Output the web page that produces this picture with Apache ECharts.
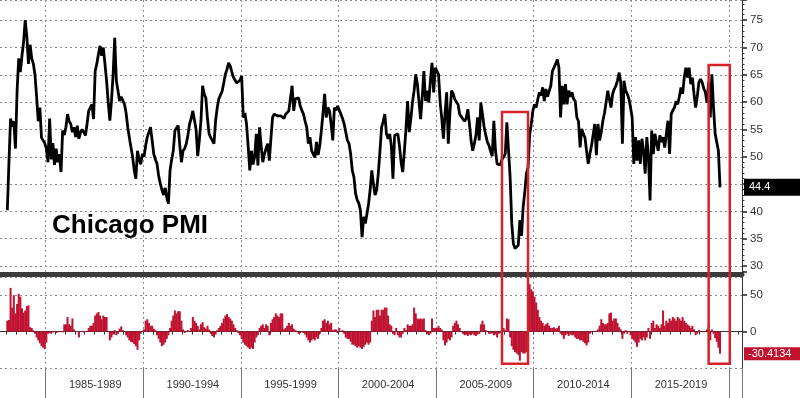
<!DOCTYPE html>
<html>
<head>
<meta charset="utf-8">
<title>Chicago PMI</title>
<script src="https://cdn.jsdelivr.net/npm/echarts@6/dist/echarts.min.js"></script>
<style>
  html, body { margin: 0; padding: 0; background: #fff; }
  #chart { width: 800px; height: 398px; }
</style>
</head>
<body>
<div id="chart"></div>
<script>
// month axis runs Sep 1982 .. Aug 2020, the series start in Jan 1983
const firstYear = 1982, firstMonth = 9, monthCount = 456;
const dataStart = '1983-01';

// Chicago PMI, monthly, one row per year
const pmiValues = [
  40.2, 49, 57, 55.5, 56.5, 51.5, 62, 68, 65.5, 68.5, 71, 75,
  72, 67, 70.5, 68, 67, 65, 61, 56.5, 59, 53.5, 53, 52.5,
  51.5, 49, 57, 49.5, 52.5, 48.5, 51.5, 49, 50.5, 47.2, 54.8, 54,
  55.4, 57.8, 56.5, 56, 54.5, 55.4, 53.6, 55.7, 53.3, 54.5, 55, 54.5,
  53.9, 56, 58.4, 59, 59.6, 56.9, 65.7, 67, 68.8, 70.3, 68.5, 70,
  67, 63.9, 60, 56.6, 60.2, 65, 71.8, 63.9, 62.1, 60.2, 61, 60.8,
  59.6, 58, 55.4, 53.5, 51.7, 50, 47.5, 46, 51.1, 49.5, 48.6, 50.5,
  50, 52, 53.6, 54.5, 55.4, 53, 50.5, 49.5, 48.7, 46.5, 45.1, 44,
  43, 44.3, 42.5, 41.4, 47.5, 49.5, 51.1, 54.8, 55, 55.7, 52, 49,
  51.1, 51.5, 52.4, 54, 56, 57, 58.4, 58.1, 55, 50.1, 53, 56.6,
  63, 61.5, 60.8, 57, 54.2, 53.5, 53, 52.4, 56.6, 59, 60.6, 60.6,
  62, 63.5, 65.1, 66, 67.2, 66.6, 65.5, 64.5, 64.2, 63.5, 63.3, 64,
  64.8, 57.2, 58, 56, 52, 47.5, 51.1, 48.6, 50, 54.2, 48.4, 55.4,
  52, 49, 50.5, 51.5, 52.4, 49.3, 53.3, 57.2, 57.8, 57.5, 57.5, 57.2,
  57.5, 57.2, 57, 57.8, 58, 58.4, 58.4, 63, 58.4, 60.6, 60.5, 60.8,
  59.3, 58.5, 57.8, 56.5, 55.4, 52.4, 53.6, 51.1, 50.5, 49.9, 52.7, 50.3,
  52, 54.8, 58, 61.5, 57.2, 59, 58.4, 56, 53, 59, 58.5, 59.3,
  59, 57.8, 57, 56, 54.5, 53, 52.4, 50.5, 47.5, 46.3, 43.3, 42.1,
  41.5, 40.2, 35.3, 39, 37.8, 39.5, 41.4, 44, 47.5, 45, 43, 43.9,
  47, 51, 55.4, 56.5, 57.8, 54.2, 53.3, 54.2, 52, 46, 53.9, 54,
  54.2, 52, 49, 47.2, 51, 55.1, 60.2, 54.5, 57, 60, 62.1, 65.1,
  63.3, 60, 56.9, 61, 65.7, 60.2, 62.1, 59.9, 64, 67.2, 61.8, 66.3,
  65.7, 65.1, 60, 57, 53.3, 58, 61.8, 52.4, 58, 62.1, 61.5, 60.5,
  60, 59.6, 57.8, 57.5, 56.9, 56.5, 57, 58.7, 56, 53, 51.1, 52.4,
  54, 57.2, 53, 59.9, 57.8, 55.5, 54, 52.7, 52.1, 51, 50.1, 56.6,
  51.1, 48.7, 49, 48.5, 49.5, 49.3, 50.5, 56.3, 56, 46.3, 37.8, 34.1,
  33.2, 33.5, 33.8, 38.4, 35.5, 40.8, 43.5, 46.9, 48, 54, 56, 58.5,
  59.6, 59, 60.5, 61.8, 61.2, 62.7, 60.2, 62.4, 61, 62, 63, 65.7,
  66, 67, 67.8, 66.3, 57.2, 63, 59.6, 63.3, 59.6, 62.1, 61, 61.8,
  60.6, 60.2, 57.2, 56.5, 51.7, 55.1, 54.2, 53.5, 51, 48.7, 50.5, 52,
  54, 56, 50.3, 56, 53, 54.5, 56.6, 58, 60, 62.1, 62.4, 59,
  61.5, 62.4, 63, 64, 65.4, 63.6, 52.4, 63.9, 62.1, 61.5, 60.6, 59,
  57.2, 48.7, 53.6, 49.3, 53, 48.7, 53.3, 51, 46.9, 53.6, 50, 42,
  54.8, 50.5, 54.2, 52.5, 51.1, 53.9, 52.7, 53.6, 51.7, 54.2, 56.6, 50.5,
  57.8, 58.5, 59, 60.2, 59.6, 61, 62.7, 61.5, 64.5, 66.3, 64.5, 66.3,
  63.3, 64.5, 61.5, 59, 61, 63.6, 64.2, 63.6, 62.5, 61.8, 59.9, 63.6,
  57.2, 65.1, 59, 54.2, 54.5, 51.1, 44.4
];

// year-over-year % change, monthly, one row per year
const yoyValues = [
  15, 16, 60, 33, 50, 25, 38, 52, 48, 32, 26, 29,
  35, 36, 6, 5, 2, -3, -8, -12, -16, -20, -22, -24,
  -15, -3, -2, -3, -1, 1, -2, -1, 0, 1, -1, 10,
  10, 20, 10, 8, 18, 3, 0, 1, -8, 0, 1, -1,
  1, 0, 5, 8, 8, 12, 22, 25, 27, 22, 17, 22,
  20, 20, 0, -12, -8, -4, 2, -5, -3, 4, 7, 2,
  0, -5, -8, -12, -14, -15, -17, -20, -25, -12, -3, 1,
  3, 15, 17, 12, 8, 8, 4, 2, -5, -10, -15, -20,
  -18, -15, -10, -5, 5, 15, 22, 29, 25, 28, 28, 15,
  3, -2, 1, 2, 1, 5, 20, 15, 12, 8, 3, 10,
  13, 6, 4, 8, 3, -3, -6, -8, -4, 2, 5, 8,
  12, 18, 22, 24, 20, 18, 15, 10, 5, 2, -2, -5,
  -10, -15, -18, -20, -22, -24, -22, -24, -15, -8, -5, 5,
  8, 10, 5, 10, 8, -5, 12, 17, 20, 25, 22, 20,
  25, 25, 3, 5, 8, 12, 8, 10, 4, 2, 1, -3,
  -2, 0, -2, -4, -8, -12, -15, -12, -10, -12, -8, -10,
  -3, 5, 15, 17, 12, 15, 10, 12, 2, 3, 3, -2,
  5, 0, 2, -3, -8, -10, -10, -14, -18, -18, -20, -22,
  -20, -22, -24, -21, -18, -15, -18, -15, 15, 29, 20, 30,
  30, 22, 30, 30, 33, 33, 22, 10, 8, -3, -5, 5,
  -5, -8, -8, -3, 5, 2, 10, 8, 8, 10, 33, 25,
  18, 17, 18, 17, 18, 2, -3, -5, -3, 18, 5, 5,
  5, 8, 5, 3, -12, -19, -15, -10, -12, -8, 8, 12,
  15, 10, 5, 0, -3, -5, -4, -6, -4, -5, -3, -5,
  -6, -4, -3, 10, 15, 10, 2, 0, -3, -3, -2, -5,
  -4, -8, -3, -2, 10, 5, 2, 18, 17, -8, -20, -25,
  -28, -30, -32, -40, -28, -30, -30, -28, 20, 65, 58, 55,
  48, 40, 30, 20, 15, 12, 8, 10, 12, 8, 5, 5,
  6, 4, 5, 8, -3, -5, -10, -5, -3, -6, -4, -5,
  -5, -8, -10, -10, -12, -12, -14, -16, -19, -15, -3, -1,
  0, 1, 0, 3, 8, 17, 12, 10, 10, 12, 25, 26,
  15, 18, 18, 12, 6, 3, -10, -3, 2, -3, 1, -5,
  -10, -12, -15, -21, -15, -10, -12, -8, -12, -8, 5, -10,
  12, 15, 5, 10, 8, 5, 10, 29, 8, 15, 12, 18,
  15, 20, 18, 15, 20, 18, 15, 20, 15, 12, 10, 8,
  5, 8, 3, -5, -3, 2, 1, 0, -1, 1, 3, 10,
  -12, 3, -3, -9, -14, -22, -30.4134
];

const periodStarts = [1985, 1990, 1995, 2000, 2005, 2010, 2015];
const periodLabels = ['1985-1989', '1990-1994', '1995-1999', '2000-2004', '2005-2009', '2010-2014', '2015-2019'];

// red highlight boxes (month range, top on PMI scale, bottom on % scale)
const boxFrom = ['2008-05', '2018-12'];
const boxTo = ['2009-09', '2020-01'];
const boxTop = [58.2, 66.8];
const boxBottom = [-44, -44];

const months = [];
for (let i = 0; i < monthCount; i++) {
    const t = firstMonth - 1 + i;
    const y = firstYear + Math.floor(t / 12), m = t % 12 + 1;
    months.push(y + '-' + (m < 10 ? '0' + m : m));
}
const offset = months.indexOf(dataStart);
const alignData = (arr) => months.map((_, i) => (i >= offset && i - offset < arr.length) ? arr[i - offset] : null);

const yearOf = (i) => +months[i].slice(0, 4);
const monthOf = (i) => months[i].slice(5);
const isPeriodStart = (i) => monthOf(i) === '01' && periodStarts.concat([2020]).indexOf(yearOf(i)) >= 0;
const isHalfYear = (i) => monthOf(i) === '01' || monthOf(i) === '07';
const isPeriodMiddle = (i) => monthOf(i) === '07' && periodStarts.indexOf(yearOf(i) - 2) >= 0;

const gridLine = { show: true, lineStyle: { color: '#8a8a8a', width: 1, type: [2, 3] } };
const axisText = { color: '#333', fontSize: 11.5 };

// value flag sitting on the right axis
function axisFlag(value, bg, pad) {
    return {
        silent: true, symbol: 'none',
        lineStyle: { color: 'rgba(0,0,0,0)', width: 0 },
        label: {
            show: true, position: 'end', distance: 2,
            backgroundColor: bg, color: '#fff', fontSize: 11,
            padding: pad,
            formatter: () => String(value)
        },
        data: [{ yAxis: value }]
    };
}

let chart = echarts.init(document.getElementById('chart'));

let option = {
    animation: false,
    textStyle: { fontFamily: 'Liberation Sans, Arial, sans-serif' },
    title: {
        text: 'Chicago PMI',
        left: 52,
        top: 213,
        padding: 0,
        textStyle: { fontSize: 26, fontWeight: 'bold', color: '#000' }
    },
    grid: [
        { left: 0, top: -1, width: 742, height: 273 },
        { left: 0, top: 277, width: 742, height: 91 }
    ],
    xAxis: [
        {
            gridIndex: 0, type: 'category', data: months, boundaryGap: true,
            offset: 2.5,
            axisLine: { show: true, lineStyle: { color: '#3a3a3a', width: 5 } },
            axisTick: { show: false },
            axisLabel: { show: false },
            splitLine: Object.assign({ interval: isPeriodStart }, gridLine)
        },
        {
            gridIndex: 1, type: 'category', data: months, boundaryGap: true,
            axisLine: { show: true, lineStyle: { color: '#333', width: 1 } },
            axisTick: { show: true, interval: isHalfYear, length: 3, lineStyle: { color: '#333' } },
            axisLabel: { show: false },
            splitLine: Object.assign({ interval: isPeriodStart }, gridLine)
        },
        {
            gridIndex: 1, type: 'category', data: months, boundaryGap: true, position: 'bottom',
            axisLine: { show: false },
            axisTick: { show: true, interval: isPeriodStart, length: 30, lineStyle: { color: '#777' } },
            axisLabel: {
                show: true, interval: isPeriodMiddle, margin: 11,
                color: '#333', fontSize: 11,
                formatter: (v) => periodLabels[periodStarts.indexOf(+v.slice(0, 4) - 2)]
            },
            splitLine: { show: false }
        }
    ],
    yAxis: [
        {
            gridIndex: 0, type: 'value', position: 'right',
            min: 28.9, max: 78.7, splitNumber: 10,
            axisLine: { show: true, lineStyle: { color: '#333' } },
            axisTick: { show: true, length: 5, lineStyle: { color: '#222', width: 1.5 } },
            minorTick: { show: true, splitNumber: 5, length: 2.5, lineStyle: { color: '#333' } },
            axisLabel: Object.assign({ margin: 8, showMinLabel: false, showMaxLabel: false }, axisText),
            splitLine: gridLine
        },
        {
            gridIndex: 1, type: 'value', position: 'right',
            min: -50, max: 75, interval: 50,
            axisLine: { show: true, lineStyle: { color: '#333' } },
            axisTick: { show: true, length: 5, lineStyle: { color: '#222', width: 1.5 } },
            axisLabel: Object.assign({ margin: 8, showMinLabel: false, showMaxLabel: false }, axisText),
            splitLine: gridLine
        }
    ],
    series: [
        {
            name: 'Chicago PMI',
            type: 'line',
            xAxisIndex: 0, yAxisIndex: 0,
            clip: false,
            data: alignData(pmiValues),
            symbol: 'none',
            lineStyle: { color: '#000', width: 2.8 },
            markLine: axisFlag(pmiValues[pmiValues.length - 1], '#000', [3, 30, 3, 5])
        },
        {
            name: 'YoY %',
            type: 'bar',
            xAxisIndex: 1, yAxisIndex: 1,
            clip: false,
            data: alignData(yoyValues),
            barWidth: 2,
            itemStyle: { color: '#bf1230' },
            markLine: axisFlag(yoyValues[yoyValues.length - 1], '#c1132e', [1, 10, 1, 4])
        }
    ]
};
chart.setOption(option);

// highlight boxes placed through the axes
const boxes = boxFrom.map((from, k) => {
    const x1 = chart.convertToPixel({ xAxisIndex: 0 }, from);
    const x2 = chart.convertToPixel({ xAxisIndex: 0 }, boxTo[k]);
    const y1 = chart.convertToPixel({ yAxisIndex: 0 }, boxTop[k]);
    const y2 = chart.convertToPixel({ yAxisIndex: 1 }, boxBottom[k]);
    return {
        type: 'rect', z: 100, silent: true,
        shape: { x: x1, y: y1, width: x2 - x1, height: y2 - y1 },
        style: { fill: 'none', stroke: '#d5232b', lineWidth: 2.5 }
    };
});
chart.setOption({ graphic: boxes });
</script>
</body>
</html>
